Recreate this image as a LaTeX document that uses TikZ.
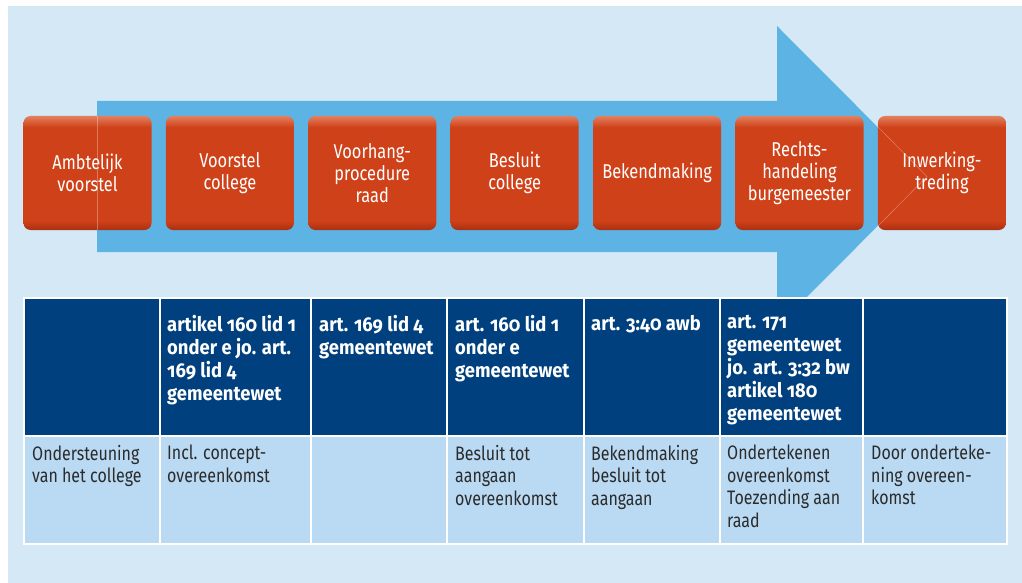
\documentclass[tikz,border=0pt]{standalone}
\usepackage{fontspec}
\setmainfont{Fira Sans}[FakeStretch=0.82]
\newfontfamily\hdfont{Fira Sans}[FakeStretch=0.92,Numbers=OldStyle]
\usetikzlibrary{positioning}
\definecolor{bgblue}{HTML}{D4E8F6}
\definecolor{arrowblue}{HTML}{5DB3E4}
\definecolor{boxred}{HTML}{CF4119}
\definecolor{boxdark}{HTML}{A93012}
\definecolor{boxlight}{HTML}{E2805E}
\definecolor{hdblue}{HTML}{00407F}
\definecolor{cellblue}{HTML}{BADAF3}
\definecolor{celltext}{HTML}{2B2B2B}
\pgfdeclareverticalshading{boxshade}{100bp}{color(0bp)=(boxdark); color(25bp)=(boxdark); color(29bp)=(boxred); color(70bp)=(boxred); color(75bp)=(boxlight); color(100bp)=(boxlight)}
\begin{document}
\begin{tikzpicture}[x=1pt,y=-1pt,
    stepbox/.style={rounded corners=7pt, minimum width=128pt, minimum height=114pt,
      inner sep=0pt, shading=boxshade, text=white, align=center,
      font=\fontsize{20}{22}\selectfont},
    hdtext/.style={anchor=north west, inner sep=0pt, align=left, text=white,
      font=\hdfont\bfseries\fontsize{20}{23}\selectfont},
    celltxt/.style={anchor=north west, inner sep=0pt, align=left, text=celltext,
      font=\fontsize{19.5}{22.5}\selectfont}]
  \useasboundingbox (0,0) rectangle (1022,583);
  \fill[white] (0,0) rectangle (1022,583);
  \fill[bgblue] (8,6) rectangle (1022,583);
  \fill[arrowblue] (97,101) -- (777,101) -- (777,26) -- (927,176.5) -- (777,327) -- (777,252) -- (97,252) -- cycle;

  \node[stepbox] (ambt) at (87.5,173) {Ambtelijk\\voorstel};
  \node[stepbox, right=14pt of ambt] (vcol) {Voorstel\\college};
  \node[stepbox, right=14pt of vcol] (vhp) {Voorhang-\\procedure\\raad};
  \node[stepbox, right=14pt of vhp] (bcol) {Besluit\\college};
  \node[stepbox, right=14pt of bcol] (bekm) {Bekendmaking};
  \node[stepbox, right=14pt of bekm] (rhb) {Rechts-\\handeling\\burgemeester};
  \node[stepbox, right=14pt of rhb] (inwt) {Inwerking-\\treding};
  \draw[white, opacity=0.3, line width=0.6pt] (97,116) -- (97,230);
  \draw[white, opacity=0.3, line width=0.6pt] (876,125) -- (927,176.5) -- (876,228);

  \fill[hdblue] (24,298) rectangle (1007,436);
  \fill[cellblue] (24,436) rectangle (1007,544);
  \draw[white, line width=1.5pt] (24,298) rectangle (1007,544);
  \draw[white, line width=1.5pt] (24,436) -- (1007,436);
  \foreach \cx in {160,311,447,584,720,863}
    \draw[white, line width=1.5pt] (\cx,298) -- (\cx,544);

  \node[hdtext] (h2) at (167,315) {artikel 160 lid 1\\onder e jo. art.\\169 lid 4\\gemeentewet};
  \node[hdtext] (h3) at (319,315) {art. 169 lid 4\\gemeentewet};
  \node[hdtext] (h4) at (455,315) {art. 160 lid 1\\onder e\\gemeentewet};
  \node[hdtext] (h5) at (591,315) {art. 3:40 awb};
  \node[hdtext] (h6) at (727,315) {art. 171\\gemeentewet\\jo. art. 3:32 bw\\artikel 180\\gemeentewet};

  \node[celltxt] (c1) at (32,445) {Ondersteuning\\van het college};
  \node[celltxt] (c2) at (167,445) {Incl. concept-\\overeenkomst};
  \node[celltxt] (c4) at (455,445) {Besluit tot\\aangaan\\overeenkomst};
  \node[celltxt] (c5) at (591,445) {Bekendmaking\\besluit tot\\aangaan};
  \node[celltxt] (c6) at (727,445) {Ondertekenen\\overeenkomst\\Toezending aan\\raad};
  \node[celltxt] (c7) at (871,445) {Door onderteke-\\ning overeen-\\komst};
\end{tikzpicture}
\end{document}
